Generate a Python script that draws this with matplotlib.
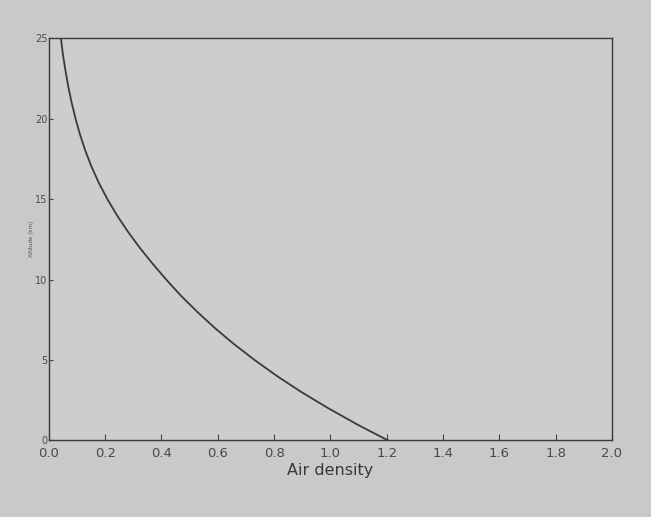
import numpy as np
import matplotlib.pyplot as plt

# Altitud (km) y densidad del aire
altitud = [0, 1, 2, 3, 4, 5, 6, 7, 8, 9, 10, 11, 12, 13, 14, 15,
           16, 17, 18, 19, 20, 21, 22, 23, 24, 25]
densidad = [1.205, 1.095, 0.993, 0.898, 0.811, 0.731, 0.657, 0.589, 0.527,
            0.469, 0.417, 0.368, 0.322, 0.280, 0.242, 0.208, 0.178, 0.152,
            0.130, 0.111, 0.095, 0.081, 0.069, 0.059, 0.050, 0.043]

xticks = [0.0, 0.2, 0.4, 0.6, 0.8, 1.0, 1.2, 1.4, 1.6, 1.8, 2.0]
yticks = [0, 5, 10, 15, 20, 25]

fig = plt.figure(figsize=(6.51, 5.17), dpi=100, facecolor='#c9c9cb')
ax = fig.add_axes([0.075, 0.148, 0.865, 0.778])
ax.set_facecolor('#cdcdcf')

ax.plot(densidad, altitud, color='#3a3a3a', linewidth=1.3)

ax.set_xlim(0, 2.0)
ax.set_ylim(0, 25)
ax.set_xticks(xticks)
ax.set_xticklabels([f"{t:.1f}" for t in xticks], fontsize=9.5, color='#4a4a4a')
ax.set_yticks(yticks)
ax.set_yticklabels([str(t) for t in yticks], fontsize=7, color='#4a4a4a')
ax.tick_params(axis='x', direction='in', length=4, color='#444444', pad=5)
ax.tick_params(axis='y', direction='in', length=3, color='#444444', pad=1)

for s in ax.spines.values():
    s.set_color('#3a3a3a')
    s.set_linewidth(1.0)

ax.set_xlabel("Air density", fontsize=11.5, color='#3a3a3a', labelpad=2)
ax.set_ylabel("Altitude (km)", fontsize=4, color='#555555', labelpad=1)

plt.savefig("out.png", dpi=100, facecolor=fig.get_facecolor())
